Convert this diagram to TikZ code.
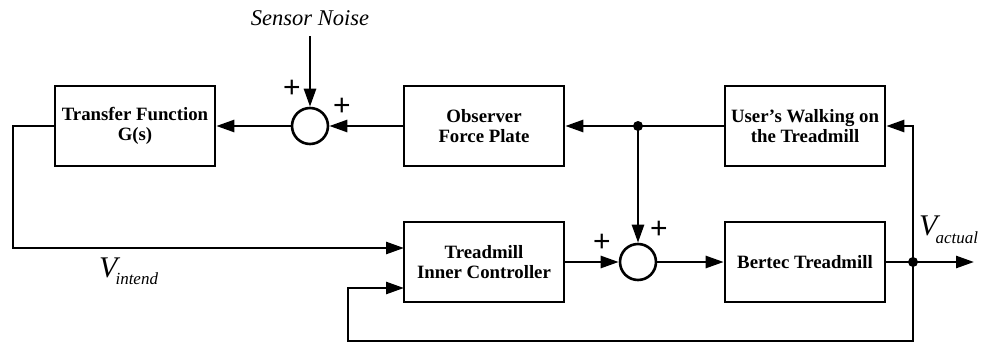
\documentclass[tikz,border=0pt]{standalone}
\usepackage{fontspec}
\setmainfont{Liberation Serif}
\newfontfamily\plusfont{Liberation Sans}
\usetikzlibrary{arrows.meta,calc}
\tikzset{
  blk/.style={draw,line width=2.6pt,minimum width=160pt,minimum height=80pt,inner sep=0pt,align=center,font=\fontsize{18.8}{20.5}\selectfont\bfseries},
  sumnode/.style={draw,circle,line width=2.6pt,minimum size=36pt,inner sep=0pt},
  conn/.style={line width=2.6pt},
  arr/.style={conn,-{Triangle[length=18pt,width=12pt]}},
  jdot/.style={circle,fill,minimum size=10pt,inner sep=0pt},
  plus/.style={font=\plusfont\fontsize{30}{30}\selectfont,inner sep=0pt},
}
\begin{document}
\begin{tikzpicture}[x=1pt,y=-1pt]
\useasboundingbox (0,0) rectangle (985,343);
% blocks
\node[blk] (tf) at (135,126) {Transfer Function\\G(s)};
\node[blk] (obs) at (484,126) {Observer\\Force Plate};
\node[blk] (user) at (805,126) {User's Walking on\\the Treadmill};
\node[blk] (inner) at (484,262) {Treadmill\\Inner Controller};
\node[blk] (bertec) at (805,262) {Bertec Treadmill};
% summing junctions
\node[sumnode] (sum1) at (310,126) {};
\node[sumnode] (sum2) at (638,262) {};
% junction dots
\node[jdot] (dot1) at (638,126) {};
\node[jdot] (dot2) at (913,262) {};
% helper coordinates
\node[font=\fontsize{22.5}{22.5}\selectfont\itshape,inner sep=0pt] (noise) at (310,18) {Sensor Noise};
\coordinate (nstart) at (310,36);
\coordinate (tl) at (13,126);
\coordinate (in1) at (404,248);
\coordinate (in2) at (404,288);
\coordinate (bl) at (348,341);
\coordinate (out) at (974,262);
% connectors
\draw[arr] (nstart) -- (sum1.north);
\draw[arr] (obs.west) -- (sum1.east);
\draw[arr] (sum1.west) -- (tf.east);
\draw[arr] (user.west) -- (obs.east);
\draw[arr] (tf.west) -- (tl) |- (in1);
\draw[arr] (dot1.center) -- (sum2.north);
\draw[arr] (inner.east) -- (sum2.west);
\draw[arr] (sum2.east) -- (bertec.west);
\draw[conn] (bertec.east) -- (dot2.center);
\draw[arr] (dot2.center) -- (out);
\draw[arr] (dot2.center) |- (user.east);
\draw[arr] (dot2.center) |- (bl) |- (in2);
% plus signs
\node[plus] (p1) at (292,89) {+};
\node[plus] (p2) at (342,107) {+};
\node[plus] (p3) at (602,243) {+};
\node[plus] (p4) at (659,230) {+};
% velocity labels
\node[inner sep=0pt,anchor=base west] (vint) at (99,277) {\fontsize{30}{30}\selectfont\itshape V\kern-2pt\raisebox{-7pt}{\fontsize{17}{17}\selectfont intend}};
\node[inner sep=0pt,anchor=base west] (vact) at (919,235) {\fontsize{30}{30}\selectfont\itshape V\kern-2pt\raisebox{-8pt}{\fontsize{17}{17}\selectfont actual}};
\end{tikzpicture}
\end{document}
